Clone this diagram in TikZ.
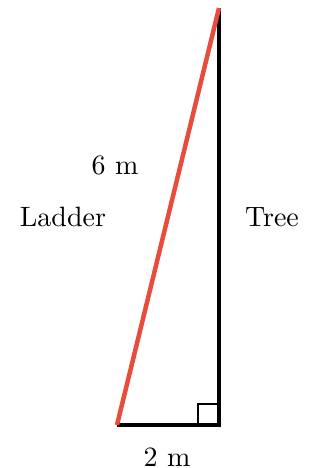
\documentclass[tikz,border=0pt]{standalone}
\usepackage{tikz}
\usetikzlibrary{positioning,calc}
\definecolor{ladderred}{RGB}{231,76,60}

\begin{document}
\begin{tikzpicture}[x=0.357pt,y=-0.357pt,font=\normalsize]
\useasboundingbox (0,0) rectangle (321,468);
\def\sq{21}
\coordinate (foot) at (117,425);
\coordinate (base) at (219,425);
\coordinate (top) at (219,8);
% right angle mark
\draw[line width=0.5pt] ($(base)+(-\sq,0)$) -- ++(0,-\sq) -- ++(\sq,0);
\draw[line width=1.2pt,line join=miter] (foot) -- (base) -- (top);
\draw[ladderred,line width=1.6pt] (foot) -- (top);
\node (len) at (115,165) {6 m};
\node (ladder) at (63,217) {Ladder};
\node (tree) at (272,217) {Tree};
\node (gap) at (167,457) {2 m};
\end{tikzpicture}
\end{document}
